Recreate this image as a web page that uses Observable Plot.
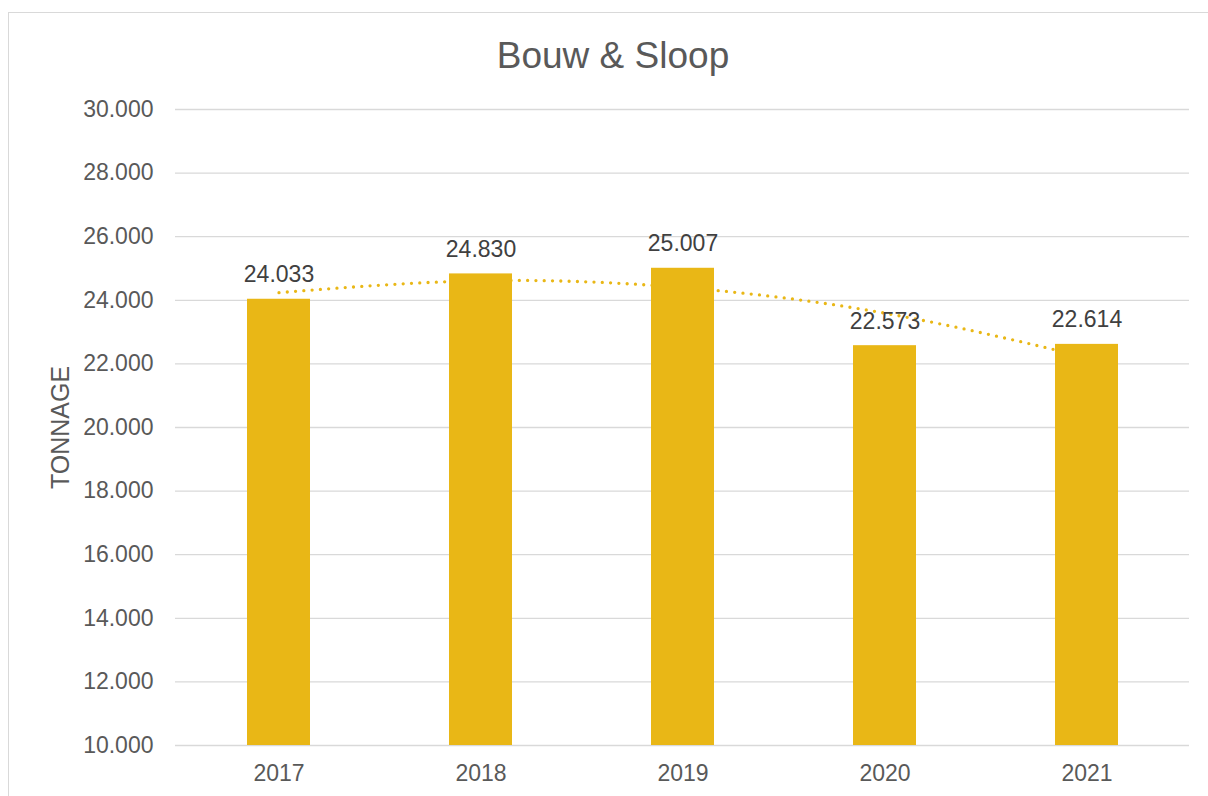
<!DOCTYPE html>
<html>
<head>
<meta charset="utf-8">
<script src="https://cdn.jsdelivr.net/npm/d3@7"></script>
<script src="https://cdn.jsdelivr.net/npm/@observablehq/plot@0.6"></script>
<style>
  html, body { margin: 0; padding: 0; background: #fff; width: 1208px; height: 796px; overflow: hidden; }
  body { position: relative; font-family: "Liberation Sans", Arial, sans-serif; }
  #frame { position: absolute; left: 8px; top: 12px; width: 1220px; height: 800px; border: 1.6px solid #d9d9d9; box-sizing: border-box; }
  #title { position: absolute; left: 8px; width: 1210px; top: 37px; text-align: center; font-size: 37px; line-height: 37px; color: #595959; }
  #chart { position: absolute; left: 0; top: 80px; }
</style>
</head>
<body>
<div id="frame"></div>
<div id="title">Bouw &amp; Sloop</div>
<div id="chart"></div>
<script>
const years = ["2017", "2018", "2019", "2020", "2021"];
const tonnage = [24033, 24830, 25007, 22573, 22614];
// dotted trendline, values
const trend = [24240, 24615, 24400, 23595, 22205];
const yTicks = [10000, 12000, 14000, 16000, 18000, 20000, 22000, 24000, 26000, 28000, 30000];
const yLabel = "TONNAGE";

const data = years.map((y, i) => ({year: y, value: tonnage[i], trend: trend[i]}));
const fmt = v => d3.format(",")(v).replace(/,/g, ".");

const barColor = "#E9B716";

const chart = Plot.plot({
  width: 1208,
  height: 716,
  marginTop: 29,
  marginBottom: 51,
  marginLeft: 175,
  marginRight: 19,
  style: {fontFamily: "'Liberation Sans', Arial, sans-serif", background: "transparent", overflow: "visible"},
  x: {domain: years, paddingInner: 0.69, paddingOuter: 0.345, label: null},
  y: {domain: [10000, 30000], label: null},
  marks: [
    Plot.gridY(yTicks, {stroke: "#d9d9d9", strokeOpacity: 1, strokeWidth: 1.3}),
    Plot.axisY(yTicks, {tickSize: 0, tickPadding: 22, tickFormat: fmt, fontSize: 23, fill: "#595959", label: null}),
    Plot.axisX({tickSize: 0, tickPadding: 19, fontSize: 23, fill: "#595959", label: null}),
    Plot.line(data, {x: "year", y: "trend", curve: "natural", stroke: barColor, strokeWidth: 3.3, strokeDasharray: "0 8.3", strokeLinecap: "round"}),
    Plot.barY(data, {x: "year", y1: 10000, y2: "value", fill: barColor}),
    Plot.text(data, {x: "year", y: "value", text: d => fmt(d.value), lineAnchor: "bottom", dy: -17, fontSize: 23, fill: "#404040"}),
    Plot.text([yLabel], {frameAnchor: "left", textAnchor: "middle", lineAnchor: "middle", rotate: -90, dx: -115, fontSize: 25, fill: "#595959"})
  ]
});
document.getElementById("chart").appendChild(chart);
</script>
</body>
</html>
